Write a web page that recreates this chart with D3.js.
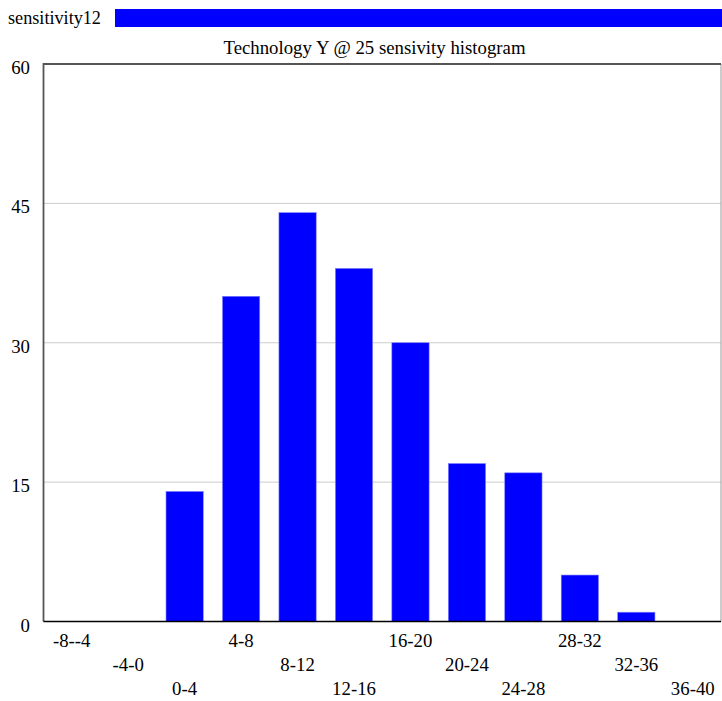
<!DOCTYPE html>
<html><head><meta charset="utf-8">
<script src="https://cdn.jsdelivr.net/npm/d3@7"></script>
<style>body{margin:0;background:#fff}</style>
</head><body><svg id="c" width="722" height="701"></svg>
<script>
const categories = ["-8--4","-4-0","0-4","4-8","8-12","12-16","16-20","20-24","24-28","28-32","32-36","36-40"];
const values = [0,0,14,35,44,38,30,17,16,5,1,0];
const yTicks = [0,15,30,45,60];
const seriesName = "sensitivity12";
const title = "Technology Y @ 25 sensivity histogram";

const FONT = '"Liberation Serif", serif';
const FS = 18.8;
const svg = d3.select("#c");
const m = {l:43.5, r:721, t:64, b:621.5};
const x = d3.scaleBand().domain(categories).range([m.l,m.r]).paddingInner(0.34).paddingOuter(0.17);
const y = d3.scaleLinear().domain([0,60]).range([m.b,m.t]);

function txt(sel){ return sel.attr("font-family", FONT).attr("font-size",FS).attr("fill","#000"); }

// legend
txt(svg.append("text")).attr("x",8).attr("y",24).attr("font-size",18.2).text(seriesName);
svg.append("rect").attr("x",115).attr("y",9).attr("width",607).attr("height",18).attr("fill","#0000ff");

// title
txt(svg.append("text")).attr("x",374.5).attr("y",54).attr("text-anchor","middle").text(title);

// gridlines
svg.append("g").selectAll("line").data(yTicks.filter(d=>d>0&&d<60)).join("line")
  .attr("x1",m.l).attr("x2",m.r).attr("y1",d=>y(d)).attr("y2",d=>y(d))
  .attr("stroke","#cccccc").attr("stroke-width",1);

// y labels
txt(svg.append("g").selectAll("text").data(yTicks).join("text"))
  .attr("x",30).attr("y",d=>y(d)+10).attr("text-anchor","end").text(d=>d);

// bars
svg.append("g").selectAll("rect").data(values).join("rect")
  .attr("x",(d,i)=>x(categories[i])).attr("width",x.bandwidth())
  .attr("y",d=>y(d)).attr("height",d=>y(0)-y(d))
  .attr("fill","#0000ff").attr("stroke","#8080ff").attr("stroke-width",0.6)
  .attr("display",d=>d>0?null:"none");

// frame
svg.append("line").attr("x1",m.r).attr("x2",m.r).attr("y1",m.t).attr("y2",m.b).attr("stroke","#999").attr("stroke-width",1);
svg.append("path").attr("d",`M${m.l},${m.b}V${m.t}H${m.r}`).attr("fill","none").attr("stroke","#555").attr("stroke-width",1.8);
svg.append("line").attr("x1",m.l).attr("x2",m.r).attr("y1",m.b).attr("y2",m.b).attr("stroke","#000").attr("stroke-width",1.5);

// x labels staggered in three rows
txt(svg.append("g").selectAll("text").data(categories).join("text"))
  .attr("x",d=>x(d)+x.bandwidth()/2).attr("y",(d,i)=>647+24*(i%3))
  .attr("text-anchor","middle").text(d=>d);
</script></body></html>
